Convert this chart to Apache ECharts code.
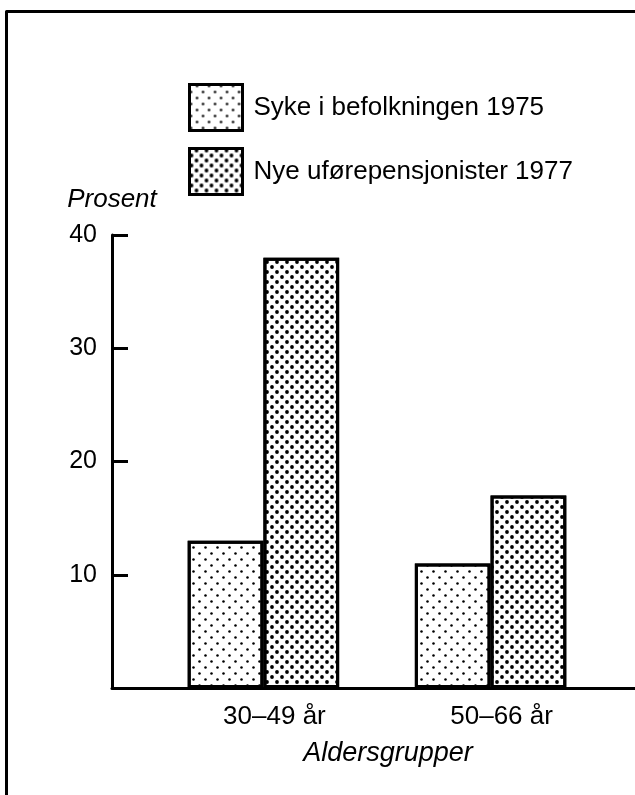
<!DOCTYPE html>
<html>
<head>
<meta charset="utf-8">
<script src="https://cdn.jsdelivr.net/npm/echarts@6/dist/echarts.min.js"></script>
<style>
  html, body { margin: 0; padding: 0; background: #fff; }
  #chart { width: 635px; height: 795px; }
</style>
</head>
<body>
<div id="chart"></div>
<script>
// data
const categories = ['30–49 år', '50–66 år']
const seriesNames = ['Syke i befolkningen 1975', 'Nye uførepensjonister 1977']
const sykeValues = [13, 11]
const uforeValues = [38, 17]
const yMax = 40
const yStep = 10

// layout: the axis has 8 slots, the two groups sit on slot 2 and 5
const slotCount = 8
const slotOf = [2, 5]

const axisData = new Array(slotCount).fill('')
slotOf.forEach((s, i) => { axisData[s] = categories[i] })
const place = vals => {
  const arr = new Array(slotCount).fill(null)
  slotOf.forEach((s, i) => { arr[s] = vals[i] })
  return arr
}

const font = '"Liberation Sans", Arial, Helvetica, sans-serif'

// light dots / dense dots (staggered rows)
const lightDecal = {
  symbol: 'circle', symbolSize: 0.85, color: '#000',
  dashArrayX: [[3, 9], [0, 6, 3, 3]],
  dashArrayY: [3, 3]
}
const denseDecal = {
  symbol: 'circle', symbolSize: 0.95, color: '#000',
  dashArrayX: [[4, 6], [0, 5, 4, 1]],
  dashArrayY: [4, 1]
}

const myChart = echarts.init(document.getElementById('chart'), null, { renderer: 'canvas' })

myChart.setOption({
  backgroundColor: '#fff',
  animation: false,
  textStyle: { fontFamily: font, color: '#000' },
  graphic: [{
    type: 'polyline',
    shape: { points: [[6.5, 800], [6.5, 11.5], [645, 11.5]] },
    style: { stroke: '#000', lineWidth: 3, fill: null, lineJoin: 'round' }
  }],
  legend: {
    orient: 'vertical',
    left: 188,
    top: 83,
    padding: 0,
    itemWidth: 53,
    itemHeight: 46,
    itemGap: 15,
    icon: 'rect',
    itemStyle: { borderWidth: 3, borderColor: '#000' },
    textStyle: { fontSize: 26, color: '#000', fontFamily: font, padding: [0, 0, 0, 6] },
    data: seriesNames
  },
  grid: { left: 112, top: 235, bottom: 107, width: 530, outerBoundsMode: 'none', containLabel: false },
  xAxis: {
    type: 'category',
    data: axisData,
    boundaryGap: false,
    name: 'Aldersgrupper',
    nameLocation: 'middle',
    nameGap: 52,
    nameTextStyle: { fontSize: 27, fontStyle: 'italic', color: '#000', fontFamily: font, padding: [0, 0, 0, 22] },
    axisLine: { lineStyle: { color: '#000', width: 3 } },
    axisTick: { show: false },
    axisLabel: { interval: 0, fontSize: 26, color: '#000', margin: 16, padding: [0, 0, 0, 22] },
    splitLine: { show: false }
  },
  yAxis: {
    type: 'value',
    min: 0,
    max: yMax,
    interval: yStep,
    name: 'Prosent',
    nameLocation: 'end',
    nameGap: 22,
    nameTextStyle: { fontSize: 26, fontStyle: 'italic', color: '#000', fontFamily: font },
    axisLine: { show: true, lineStyle: { color: '#000', width: 3 } },
    axisTick: { show: true, inside: true, length: 16, lineStyle: { color: '#000', width: 3 } },
    axisLabel: { fontSize: 25, color: '#000', margin: 15, formatter: v => (v === 0 ? '' : v) },
    splitLine: { show: false }
  },
  series: [{
    name: seriesNames[0],
    type: 'bar',
    barGap: '0%',
    barCategoryGap: '-100%',
    data: place(sykeValues),
    itemStyle: { color: '#fff', borderColor: '#000', borderWidth: 3, decal: lightDecal }
  }, {
    name: seriesNames[1],
    type: 'bar',
    barGap: '0%',
    barCategoryGap: '-100%',
    data: place(uforeValues),
    itemStyle: { color: '#fff', borderColor: '#000', borderWidth: 3, decal: denseDecal }
  }]
})
</script>
</body>
</html>
